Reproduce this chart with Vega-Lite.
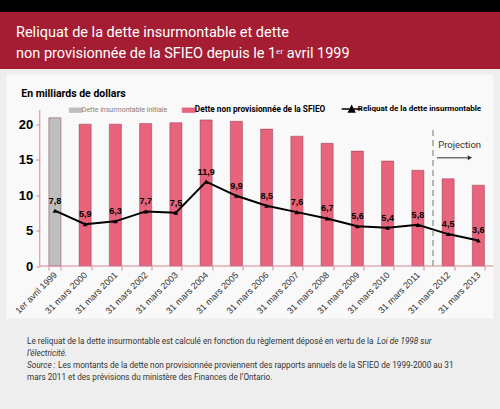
{
  "$schema": "https://vega.github.io/schema/vega-lite/v6.json",
  "background": "#EEEEEE",
  "padding": 0,
  "spacing": 5.5,
  "bounds": "flush",
  "center": true,
  "vconcat": [
    {
      "width": 500, "height": 69,
      "view": {"fill": "#A41D32", "stroke": null},
      "data": {"values": [{}]},
      "mark": {"type": "rect", "color": "#000000"},
      "encoding": {
        "x": {"datum": 0, "type": "quantitative", "scale": {"domain": [0, 1], "nice": false}, "axis": null},
        "x2": {"datum": 1},
        "y": {"datum": 0.826, "type": "quantitative", "scale": {"domain": [0, 1], "nice": false}, "axis": null},
        "y2": {"datum": 1}
      }
    },
    {
      "width": 487,
      "height": 244,
      "view": {"fill": "#F9F9F9", "stroke": null},
      "title": {
        "text": ["Reliquat de la dette insurmontable et dette", "non provisionnée de la SFIEO depuis le 1ᵉʳ avril 1999"],
        "anchor": "start", "frame": "group", "orient": "top",
        "dx": 9.5, "offset": -1, "baseline": "bottom",
        "font": "Roboto", "fontSize": 14.5, "fontWeight": "normal",
        "color": "#FFFFFF", "lineHeight": 21
      },
      "resolve": {"scale": {"x": "independent"}},
      "layer": [
        {
          "data": {"values": [
            {"date": "1er avril 1999", "type": "Dette insurmontable initiale", "debt": 20.9, "reliquat": 7.8},
            {"date": "31 mars 2000", "type": "Dette non provisionnée de la SFIEO", "debt": 20.0, "reliquat": 5.9},
            {"date": "31 mars 2001", "type": "Dette non provisionnée de la SFIEO", "debt": 20.0, "reliquat": 6.3},
            {"date": "31 mars 2002", "type": "Dette non provisionnée de la SFIEO", "debt": 20.1, "reliquat": 7.7},
            {"date": "31 mars 2003", "type": "Dette non provisionnée de la SFIEO", "debt": 20.2, "reliquat": 7.5},
            {"date": "31 mars 2004", "type": "Dette non provisionnée de la SFIEO", "debt": 20.6, "reliquat": 11.9},
            {"date": "31 mars 2005", "type": "Dette non provisionnée de la SFIEO", "debt": 20.4, "reliquat": 9.9},
            {"date": "31 mars 2006", "type": "Dette non provisionnée de la SFIEO", "debt": 19.3, "reliquat": 8.5},
            {"date": "31 mars 2007", "type": "Dette non provisionnée de la SFIEO", "debt": 18.3, "reliquat": 7.6},
            {"date": "31 mars 2008", "type": "Dette non provisionnée de la SFIEO", "debt": 17.3, "reliquat": 6.7},
            {"date": "31 mars 2009", "type": "Dette non provisionnée de la SFIEO", "debt": 16.2, "reliquat": 5.6},
            {"date": "31 mars 2010", "type": "Dette non provisionnée de la SFIEO", "debt": 14.8, "reliquat": 5.4},
            {"date": "31 mars 2011", "type": "Dette non provisionnée de la SFIEO", "debt": 13.5, "reliquat": 5.8},
            {"date": "31 mars 2012", "type": "Dette non provisionnée de la SFIEO", "debt": 12.3, "reliquat": 4.5},
            {"date": "31 mars 2013", "type": "Dette non provisionnée de la SFIEO", "debt": 11.4, "reliquat": 3.6}
          ]},
          "encoding": {
            "x": {
              "field": "date", "type": "nominal", "sort": null,
              "scale": {"type": "band", "paddingInner": 0.6, "paddingOuter": 0.85, "align": 0.8234, "round": false},
              "axis": {
                "title": null, "offset": -52.5, "domain": false, "tickBand": "extent",
                "tickColor": "#D9849A", "tickSize": 4, "labelAngle": -45,
                "labelAlign": "right", "labelBaseline": "middle", "labelPadding": 3,
                "labelFont": "Liberation Sans", "labelFontSize": 9, "labelColor": "#333333"
              }
            }
          },
          "layer": [
            {
              "mark": {"type": "bar", "stroke": "#7a2a3c", "strokeWidth": 0.6, "strokeOpacity": 0.7},
              "encoding": {
                "y": {
                  "field": "debt", "type": "quantitative",
                  "scale": {"domain": [-7.4, 27], "nice": false, "zero": false},
                  "axis": {
                    "title": "En milliards de dollars", "titleAngle": 0, "titleAlign": "left",
                    "titleBaseline": "middle", "titleX": -19, "titleY": 18.5,
                    "titleFont": "Roboto", "titleFontSize": 10.5,
                    "titleFontWeight": "bold", "titleColor": "#000000",
                    "values": [0, 5, 10, 15, 20], "offset": -33.3, "domain": false,
                    "tickColor": "#D9849A", "tickSize": 4, "labelPadding": 3,
                    "labelFont": "Liberation Sans", "labelFontSize": 13,
                    "labelFontWeight": "bold", "labelColor": "#000000", "grid": false
                  }
                },
                "color": {
                  "field": "type", "type": "nominal",
                  "scale": {
                    "domain": ["Dette insurmontable initiale", "Dette non provisionnée de la SFIEO", "Reliquat de la dette insurmontable"],
                    "range": ["#BEBEBE", "#E8637C", "#000000"]
                  },
                  "legend": {
                    "orient": "none", "legendX": 71.5, "legendY": 104.5,
                    "direction": "horizontal", "columns": 3, "title": null,
                    "symbolType": {"expr": "datum.label == 'Reliquat de la dette insurmontable' ? 'M-1,0H1M-0.3,0.3L0,-0.3L0.3,0.3Z' : 'M-1,-0.35H1V0.35H-1Z'"},
                    "symbolSize": {"expr": "datum.label == 'Reliquat de la dette insurmontable' ? 400 : 169"},
                    "symbolStrokeWidth": {"expr": "datum.label == 'Reliquat de la dette insurmontable' ? 1.5 : 0.7"},
                    "symbolStrokeColor": {"expr": "datum.label == 'Reliquat de la dette insurmontable' ? '#000000' : (datum.label == 'Dette insurmontable initiale' ? '#777777' : '#8a3346')"},
                    "labelFont": "Roboto",
                    "labelFontSize": {"expr": "datum.label == 'Dette insurmontable initiale' ? 7 : (datum.label == 'Reliquat de la dette insurmontable' ? 8 : 8.3)"},
                    "labelColor": {"expr": "datum.label == 'Dette insurmontable initiale' ? '#808080' : '#000000'"},
                    "labelFontWeight": {"expr": "datum.label == 'Dette insurmontable initiale' ? 'normal' : 'bold'"},
                    "columnPadding": 13, "labelOffset": 2, "padding": 0
                  }
                }
              }
            },
            {
              "mark": {"type": "line", "strokeWidth": 2},
              "encoding": {
                "y": {"field": "reliquat", "type": "quantitative"},
                "color": {"datum": "Reliquat de la dette insurmontable", "type": "nominal"}
              }
            },
            {
              "mark": {"type": "point", "shape": "triangle-up", "filled": true, "color": "#000000", "size": 22, "opacity": 1},
              "encoding": {"y": {"field": "reliquat", "type": "quantitative"}}
            },
            {
              "mark": {"type": "text", "font": "Liberation Sans", "fontSize": 9, "fontWeight": "bold", "color": "#000000", "baseline": "middle", "dy": -10},
              "encoding": {
                "y": {"field": "reliquat", "type": "quantitative"},
                "text": {"field": "reliquat", "type": "quantitative", "format": ".1f"}
              }
            }
          ]
        },
        {
          "data": {"values": [{}]},
          "layer": [
            {
              "mark": {"type": "rule", "color": "#D9849A", "strokeWidth": 1},
              "encoding": {
                "x": {"datum": 0, "type": "quantitative", "scale": {"domain": [-1.1, 15], "nice": false, "zero": false}, "axis": null},
                "y": {"datum": 0, "type": "quantitative"},
                "y2": {"datum": 22}
              }
            },
            {
              "mark": {"type": "rule", "color": "#D9849A", "strokeWidth": 1},
              "encoding": {
                "x": {"datum": 0, "type": "quantitative"},
                "x2": {"datum": 15},
                "y": {"datum": 0, "type": "quantitative"}
              }
            },
            {
              "mark": {"type": "rule", "color": "#A0A0A0", "strokeWidth": 1.5, "strokeDash": [6, 4]},
              "encoding": {
                "x": {"datum": 13, "type": "quantitative"},
                "y": {"datum": 0, "type": "quantitative"},
                "y2": {"datum": 19.5}
              }
            },
            {
              "mark": {"type": "rule", "color": "#333333", "strokeWidth": 1},
              "encoding": {
                "x": {"datum": 13.13, "type": "quantitative"},
                "x2": {"datum": 14.2},
                "y": {"datum": 15.25, "type": "quantitative"}
              }
            },
            {
              "mark": {"type": "point", "shape": "triangle-right", "filled": true, "color": "#333333", "size": 25, "opacity": 1},
              "encoding": {
                "x": {"datum": 14.22, "type": "quantitative"},
                "y": {"datum": 15.25, "type": "quantitative"}
              }
            },
            {
              "mark": {"type": "text", "text": "Projection", "align": "left", "baseline": "middle", "font": "Roboto", "fontSize": 9.5, "color": "#333333"},
              "encoding": {
                "x": {"datum": 13.17, "type": "quantitative"},
                "y": {"datum": 17.1, "type": "quantitative"}
              }
            }
          ]
        }
      ]
    },
    {
      "width": 446,
      "height": 85,
      "view": {"stroke": null},
      "encoding": {
        "x": {"datum": 0, "type": "quantitative", "scale": {"domain": [0, 1]}, "axis": null},
        "y": {"field": "line", "type": "quantitative", "scale": {"domain": [-0.451, 6.516], "reverse": true, "nice": false, "zero": false}, "axis": null},
        "text": {"field": "t", "type": "nominal"}
      },
      "layer": [
        {
          "data": {"values": [
            {"line": 1, "t": "Le reliquat de la dette insurmontable est calculé en fonction du règlement déposé en vertu de la"},
            {"line": 4, "t": "mars 2011 et des prévisions du ministère des Finances de l’Ontario."}
          ]},
          "mark": {"type": "text", "align": "left", "baseline": "middle", "font": "Roboto", "fontSize": 8.2, "color": "#333333"}
        },
        {
          "data": {"values": [
            {"line": 2, "t": "l’électricité."},
            {"line": 3, "t": "Source :"}
          ]},
          "mark": {"type": "text", "align": "left", "baseline": "middle", "font": "Roboto", "fontSize": 8.2, "fontStyle": "italic", "color": "#333333"}
        },
        {
          "data": {"values": [{"line": 1, "t": "Loi de 1998 sur"}]},
          "mark": {"type": "text", "align": "left", "baseline": "middle", "font": "Roboto", "fontSize": 8.2, "fontStyle": "italic", "color": "#333333", "dx": 350}
        },
        {
          "data": {"values": [{"line": 3, "t": "Les montants de la dette non provisionnée proviennent des rapports annuels de la SFIEO de 1999-2000 au 31"}]},
          "mark": {"type": "text", "align": "left", "baseline": "middle", "font": "Roboto", "fontSize": 8.2, "color": "#333333", "dx": 31}
        }
      ]
    }
  ],
  "config": {
    "view": {"stroke": null},
    "axis": {"grid": false},
    "locale": {"number": {"decimal": ",", "thousands": " ", "grouping": [3], "currency": ["", " $"]}}
  }
}
